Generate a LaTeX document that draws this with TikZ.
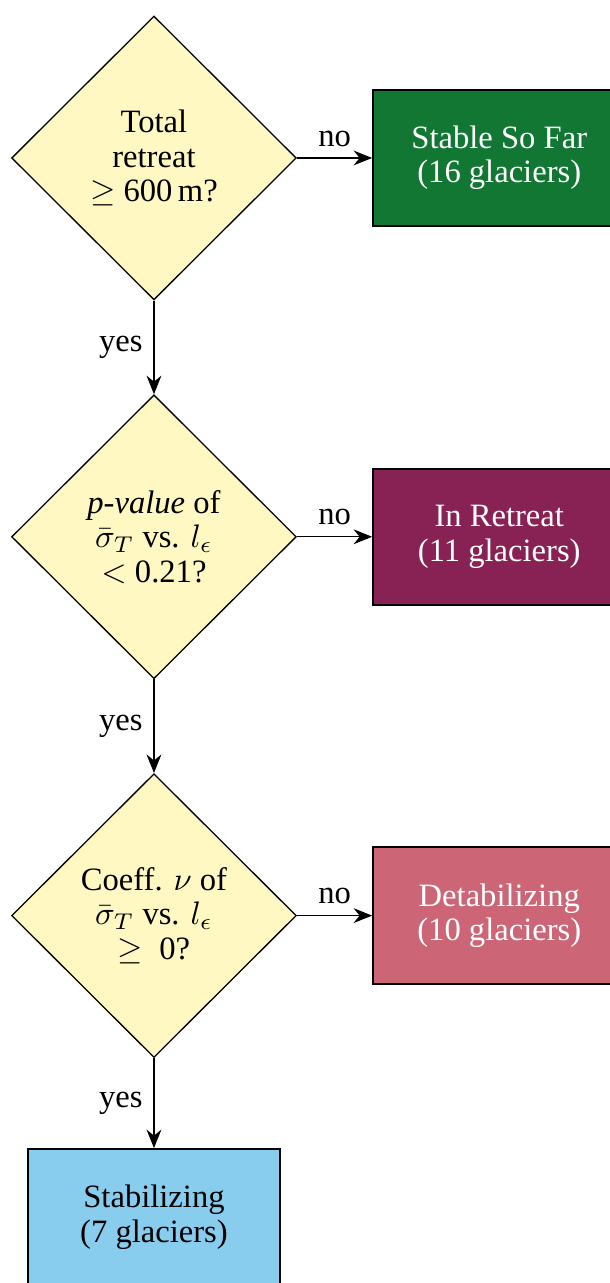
\documentclass[tikz,border=0pt]{standalone}
\usepackage{fontspec}
\setmainfont{Liberation Serif}
\usepackage{amsmath}
\usetikzlibrary{arrows.meta, positioning, shapes.geometric}

\definecolor{decisionfill}{RGB}{255,248,194}
\definecolor{stablegreen}{HTML}{117733}
\definecolor{retreatwine}{HTML}{882255}
\definecolor{destabrose}{HTML}{CC6677}
\definecolor{stabcyan}{HTML}{88CCEE}

\begin{document}
\begin{tikzpicture}[
  node distance=1.01cm,
  decision/.style={
    draw, diamond, aspect=1, fill=decisionfill,
    minimum width=3.07cm, minimum height=3.06cm, inner sep=0pt,
    align=center, font=\fontsize{10}{10.6}\selectfont
  },
  outcome/.style={
    draw, semithick, rectangle,
    minimum width=2.72cm, minimum height=1.47cm,
    align=center, font=\fontsize{10}{10.5}\selectfont
  },
  arrow/.style={-{Stealth[length=2mm, width=1.6mm]}},
  answer/.style={font=\fontsize{10}{10.5}\selectfont}
]

\useasboundingbox (-1.660,1.703) rectangle (4.906,-12.129);

% Decisions
\node[decision] (retreat) {Total\\retreat\\$\geq$~600\,m?};
\node[decision, below=1.01cm of retreat] (pvalue) {\textit{p-value} of\\$\bar{\sigma}_T$ vs. $l_\epsilon$\\$<$ 0.21?};
\node[decision, below=1.01cm of pvalue] (coeff) {Coeff. $\nu$ of\\$\bar{\sigma}_T$ vs. $l_\epsilon$\\$\geq$~ 0?};

% Outcomes
\node[outcome, fill=stablegreen, text=white, right=0.81cm of retreat] (stable) {Stable So Far\\(16 glaciers)};
\node[outcome, fill=retreatwine, text=white, right=0.81cm of pvalue] (inretreat) {In Retreat\\(11 glaciers)};
\node[outcome, fill=destabrose, text=white, right=0.81cm of coeff] (destab) {Detabilizing\\(10 glaciers)};
\node[outcome, fill=stabcyan, below=0.97cm of coeff] (stab) {Stabilizing\\(7 glaciers)};

% Arrows
\draw[arrow] (retreat) -- node[answer, above] {no} (stable);
\draw[arrow] (pvalue) -- node[answer, above] {no} (inretreat);
\draw[arrow] (coeff) -- node[answer, above] {no} (destab);
\draw[arrow] (retreat) -- node[answer, left] {yes} (pvalue);
\draw[arrow] (pvalue) -- node[answer, left] {yes} (coeff);
\draw[arrow] (coeff) -- node[answer, left] {yes} (stab);

\end{tikzpicture}
\end{document}
